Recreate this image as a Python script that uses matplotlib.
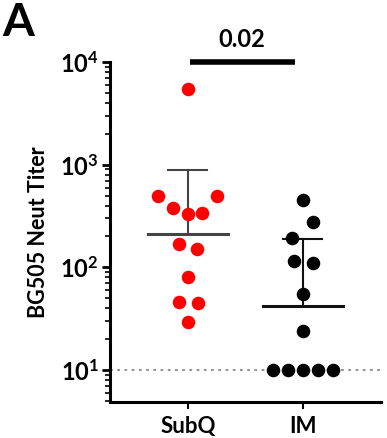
import matplotlib
matplotlib.use('Agg')
import matplotlib.pyplot as plt
import matplotlib.ticker as mticker
import numpy as np

plt.rcParams['font.family'] = ['Lato', 'DejaVu Sans']
plt.rcParams['mathtext.fontset'] = 'custom'
plt.rcParams['mathtext.bf'] = 'Lato:bold'
plt.rcParams['mathtext.rm'] = 'Lato'

# datos
groups = ['SubQ', 'IM']
subq = [5460, 499, 492, 381, 331, 341, 168, 151, 81, 46, 45, 29]
subq_off = [0, -0.26, 0.25, -0.13, 0, 0.12, -0.08, 0.08, 0, -0.08, 0.09, 0]
im = [453, 275, 195, 114, 110, 55, 24, 10, 10, 10, 10, 10]
im_off = [0, 0.09, -0.09, -0.08, 0.09, 0, 0, -0.26, -0.13, 0, 0.13, 0.26]
means = [211, 42]
err_top = [888, 188]
colors = ['#ff0000', '#000000']
bar_colors = ['#444444', '#111111']
limit = 10
pval = '0.02'

fig = plt.figure(figsize=(3.87, 4.38), dpi=100)
ax = fig.add_axes([0.284, 0.083, 0.700, 0.775])

for i, (vals, offs) in enumerate([(subq, subq_off), (im, im_off)]):
    ax.scatter(np.array(offs) + i, vals, s=95, color=colors[i], zorder=3, linewidths=0)
    ax.plot([i - 0.35, i + 0.35], [means[i], means[i]], color=bar_colors[i], lw=2.2, zorder=2)
    ax.plot([i, i], [means[i], err_top[i]], color=bar_colors[i], lw=1.5, zorder=2)
    ax.plot([i - 0.17, i + 0.17], [err_top[i], err_top[i]], color=bar_colors[i], lw=1.5, zorder=2)

ax.axhline(limit, color='#888888', ls=(0, (1.5, 2.5)), lw=1.3, zorder=1)

ax.set_yscale('log')
ax.set_ylim(4.9, 1e4)
ax.set_xlim(-0.68, 1.68)
ax.yaxis.set_major_locator(mticker.FixedLocator([10, 100, 1000, 10000]))
ax.yaxis.set_major_formatter(mticker.FuncFormatter(
    lambda v, p: r'$\mathbf{10^{%d}}$' % int(round(np.log10(v)))))
ax.yaxis.set_minor_locator(mticker.LogLocator(base=10, subs=np.arange(2, 10)))
ax.yaxis.set_minor_formatter(mticker.NullFormatter())
ax.set_xticks([0, 1])
ax.set_xticklabels(groups, fontsize=16, fontweight='bold')

for s in ['top', 'right']:
    ax.spines[s].set_visible(False)
ax.spines['left'].set_linewidth(2.2)
ax.spines['bottom'].set_linewidth(2.2)
ax.tick_params(axis='y', which='major', length=6, width=2, labelsize=17, pad=2)
ax.tick_params(axis='y', which='minor', length=3.5, width=1.2)
ax.tick_params(axis='x', length=5, width=1.5, pad=5)

ax.set_ylabel('BG505 Neut Titer', fontsize=15.5, fontweight='bold', labelpad=8)

# barra de significancia
ax.plot([0.02, 0.93], [1e4, 1e4], color='black', lw=4, clip_on=False, solid_capstyle='butt')
ax.text(0.47, 1.3e4, pval, ha='center', va='bottom', fontsize=17, fontweight='bold')

fig.text(0.005, 0.995, 'A', fontsize=33, fontweight='bold', ha='left', va='top')

fig.savefig('out.png', dpi=100)
